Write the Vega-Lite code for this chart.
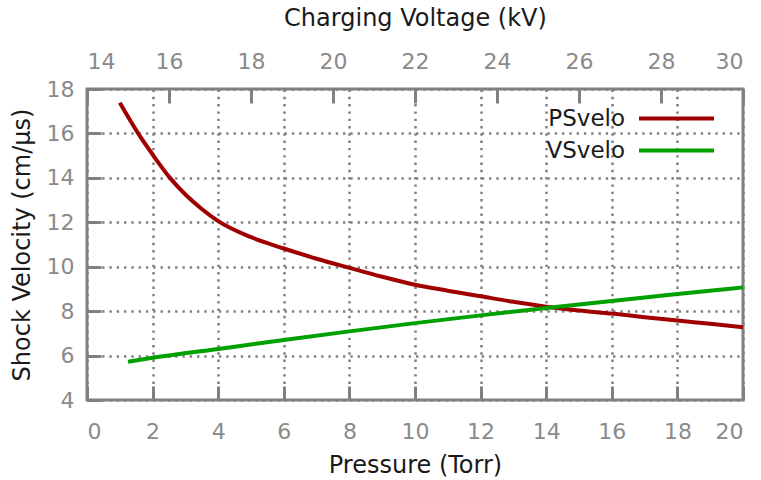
{
  "$schema": "https://vega.github.io/schema/vega-lite/v6.json",
  "width": 656,
  "height": 311,
  "autosize": {"type": "none"},
  "padding": {"left": 87, "top": 89, "right": 18, "bottom": 80},
  "background": "white",
  "config": {
    "font": "DejaVu Sans",
    "view": {"stroke": "#808080", "strokeWidth": 3},
    "axis": {
      "domain": false,
      "labelFont": "DejaVu Sans",
      "labelFontSize": 22,
      "labelColor": "#8a8a8a",
      "titleFont": "DejaVu Sans",
      "titleFontSize": 24,
      "titleFontWeight": "normal",
      "titleColor": "#1a1a1a",
      "ticks": true,
      "tickColor": "#808080",
      "tickWidth": 3,
      "tickSize": -14,
      "tickOpacity": 1,
      "gridColor": "#808080",
      "gridWidth": 2.5,
      "gridDash": [2.4, 4.9],
      "gridOpacity": 1
    }
  },
  "layer": [
    {
      "data": {
        "values": [
          {"pressure": 1.0, "velocity": 17.38, "series": "PSvelo"},
          {"pressure": 1.56, "velocity": 16.0, "series": "PSvelo"},
          {"pressure": 2.0, "velocity": 15.05, "series": "PSvelo"},
          {"pressure": 2.53, "velocity": 14.0, "series": "PSvelo"},
          {"pressure": 3.0, "velocity": 13.25, "series": "PSvelo"},
          {"pressure": 3.5, "velocity": 12.6, "series": "PSvelo"},
          {"pressure": 4.0, "velocity": 12.05, "series": "PSvelo"},
          {"pressure": 5.0, "velocity": 11.33, "series": "PSvelo"},
          {"pressure": 6.0, "velocity": 10.82, "series": "PSvelo"},
          {"pressure": 7.0, "velocity": 10.36, "series": "PSvelo"},
          {"pressure": 8.0, "velocity": 9.95, "series": "PSvelo"},
          {"pressure": 9.0, "velocity": 9.55, "series": "PSvelo"},
          {"pressure": 10.0, "velocity": 9.19, "series": "PSvelo"},
          {"pressure": 11.0, "velocity": 8.92, "series": "PSvelo"},
          {"pressure": 12.0, "velocity": 8.67, "series": "PSvelo"},
          {"pressure": 13.0, "velocity": 8.42, "series": "PSvelo"},
          {"pressure": 14.0, "velocity": 8.2, "series": "PSvelo"},
          {"pressure": 15.0, "velocity": 8.03, "series": "PSvelo"},
          {"pressure": 16.0, "velocity": 7.89, "series": "PSvelo"},
          {"pressure": 17.0, "velocity": 7.73, "series": "PSvelo"},
          {"pressure": 18.0, "velocity": 7.58, "series": "PSvelo"},
          {"pressure": 19.0, "velocity": 7.43, "series": "PSvelo"},
          {"pressure": 20.0, "velocity": 7.28, "series": "PSvelo"}
        ]
      },
      "mark": {"type": "line", "strokeWidth": 4, "interpolate": "monotone"},
      "encoding": {
        "x": {
          "field": "pressure",
          "type": "quantitative",
          "scale": {"domain": [0, 20], "nice": false, "zero": false},
          "axis": {
            "orient": "bottom",
            "title": "Pressure (Torr)",
            "values": [0, 2, 4, 6, 8, 10, 12, 14, 16, 18, 20],
            "grid": true,
            "labelPadding": 35,
            "titlePadding": 11
          }
        },
        "y": {
          "field": "velocity",
          "type": "quantitative",
          "scale": {"domain": [4, 18], "nice": false, "zero": false},
          "axis": {
            "title": "Shock Velocity (cm/μs)",
            "values": [4, 6, 8, 10, 12, 14, 16, 18],
            "grid": true,
            "labelPadding": 27,
            "titlePadding": 12
          }
        },
        "color": {
          "field": "series",
          "type": "nominal",
          "scale": {"domain": ["PSvelo", "VSvelo"], "range": ["#a00000", "#00a000"]},
          "legend": {
            "title": null,
            "orient": "none",
            "legendX": 575,
            "legendY": 15,
            "symbolType": "M-3,0L3,0",
            "symbolSize": 625,
            "symbolStrokeWidth": 4,
            "labelAlign": "right",
            "labelOffset": -66,
            "labelFontSize": 23,
            "labelColor": "#1a1a1a",
            "labelFont": "DejaVu Sans",
            "rowPadding": 5,
            "padding": 0
          }
        }
      }
    },
    {
      "data": {
        "values": [
          {"voltage": 15.0, "velocity": 5.72, "series": "VSvelo"},
          {"voltage": 15.6, "velocity": 5.9, "series": "VSvelo"},
          {"voltage": 17.2, "velocity": 6.3, "series": "VSvelo"},
          {"voltage": 18.8, "velocity": 6.7, "series": "VSvelo"},
          {"voltage": 20.4, "velocity": 7.09, "series": "VSvelo"},
          {"voltage": 22.0, "velocity": 7.46, "series": "VSvelo"},
          {"voltage": 23.6, "velocity": 7.81, "series": "VSvelo"},
          {"voltage": 25.2, "velocity": 8.14, "series": "VSvelo"},
          {"voltage": 26.8, "velocity": 8.46, "series": "VSvelo"},
          {"voltage": 28.4, "velocity": 8.77, "series": "VSvelo"},
          {"voltage": 30.0, "velocity": 9.07, "series": "VSvelo"}
        ]
      },
      "mark": {"type": "line", "strokeWidth": 4, "interpolate": "monotone"},
      "encoding": {
        "x": {
          "field": "voltage",
          "type": "quantitative",
          "scale": {"domain": [14, 30], "nice": false, "zero": false},
          "axis": {
            "orient": "top",
            "title": "Charging Voltage (kV)",
            "values": [14, 16, 18, 20, 22, 24, 26, 28, 30],
            "grid": false,
            "labelPadding": 30,
            "titlePadding": 20
          }
        },
        "y": {"field": "velocity", "type": "quantitative"},
        "color": {"field": "series", "type": "nominal"}
      }
    }
  ],
  "resolve": {"scale": {"x": "independent"}}
}
